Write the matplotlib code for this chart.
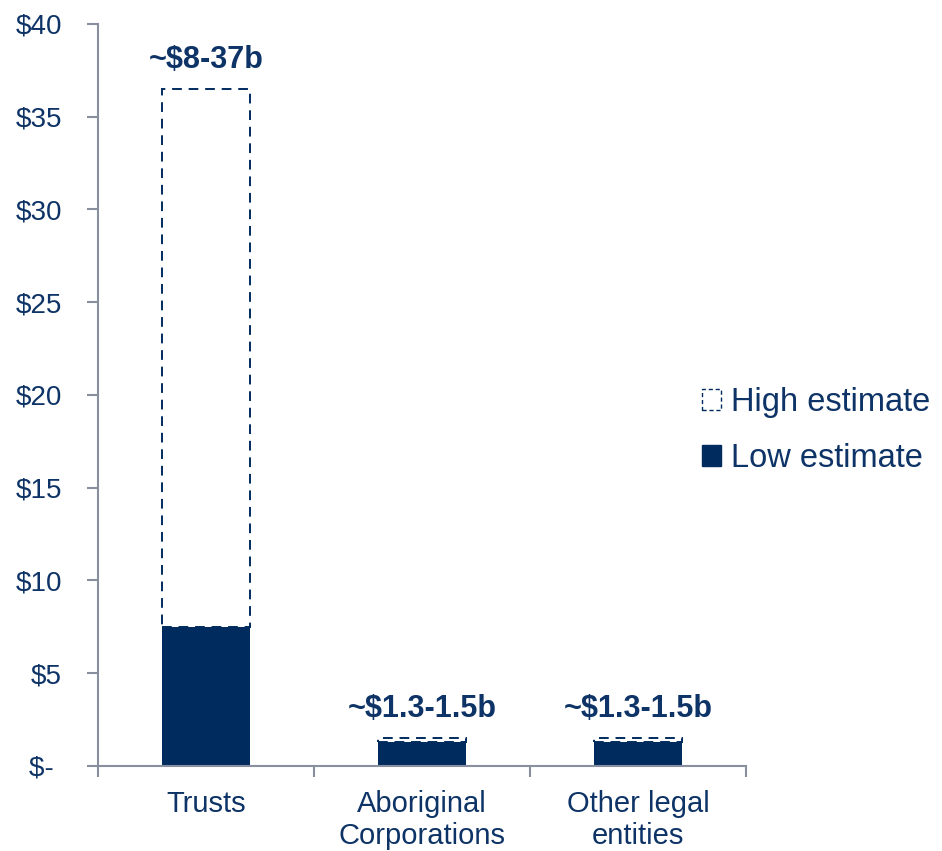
import matplotlib
matplotlib.use("Agg")
import matplotlib.pyplot as plt
from matplotlib.patches import Patch
import numpy as np

categories = ["Trusts", "Aboriginal\nCorporations", "Other legal\nentities"]
low_estimate = [7.5, 1.3, 1.3]
high_estimate = [36.5, 1.5, 1.5]
range_labels = ["~$8-37b", "~$1.3-1.5b", "~$1.3-1.5b"]
y_ticks = [0, 5, 10, 15, 20, 25, 30, 35, 40]
y_tick_labels = ["$- ", "$5", "$10", "$15", "$20", "$25", "$30", "$35", "$40"]

NAVY = "#002B5E"
TEXT = "#0E3366"
SPINE = "#8A8FA0"

plt.rcParams["font.family"] = ["Liberation Sans", "DejaVu Sans"]

fig = plt.figure(figsize=(9.42, 8.51), dpi=100)
ax = fig.add_axes([0.104, 0.0999, 0.688, 0.872])

x = np.arange(len(categories))
width = 0.41
low = np.array(low_estimate)
high = np.array(high_estimate)

ax.bar(x, low, width=width, color=NAVY, edgecolor=NAVY, linewidth=0, zorder=2)
ax.bar(x, high - low, bottom=low, width=width, facecolor="white",
       edgecolor=NAVY, linewidth=1.4, linestyle=(0, (5, 3.5)), zorder=3)

for xi, top, lab in zip(x, high, range_labels):
    ax.annotate(lab, (xi, top), xytext=(0, 10), textcoords="offset points",
                ha="center", va="bottom", fontsize=22, fontweight="bold",
                color=TEXT)

ax.set_xlim(-0.5, len(categories) - 0.5)
ax.set_ylim(0, 40)
ax.set_yticks(y_ticks)
ax.set_yticklabels(y_tick_labels)
ax.set_xticks(x)
ax.set_xticklabels(categories, linespacing=1.2)
ax.tick_params(axis="x", length=0, pad=17, labelsize=21, labelcolor=TEXT)
ax.set_xticks(np.arange(-0.5, len(categories)), minor=True)
ax.tick_params(axis="x", which="minor", length=8, width=1.5, color=SPINE,
               direction="out")
ax.tick_params(axis="y", length=8, width=1.5, color=SPINE, pad=18,
               labelsize=20, labelcolor=TEXT)

for side in ("top", "right"):
    ax.spines[side].set_visible(False)
for side in ("left", "bottom"):
    ax.spines[side].set_color(SPINE)
    ax.spines[side].set_linewidth(1.5)

handles = [
    Patch(facecolor="white", edgecolor=NAVY, linewidth=1.0,
          linestyle=(0, (3, 2)), label="High estimate"),
    Patch(facecolor=NAVY, edgecolor=NAVY, label="Low estimate"),
]
fig.legend(handles=handles, loc="center left", bbox_to_anchor=(0.745, 0.494),
           frameon=False, fontsize=23.5, labelcolor=TEXT, handlelength=0.6,
           handleheight=0.6, handletextpad=0.3, labelspacing=0.75,
           borderpad=0, borderaxespad=0)

fig.savefig("out.png", dpi=100)
